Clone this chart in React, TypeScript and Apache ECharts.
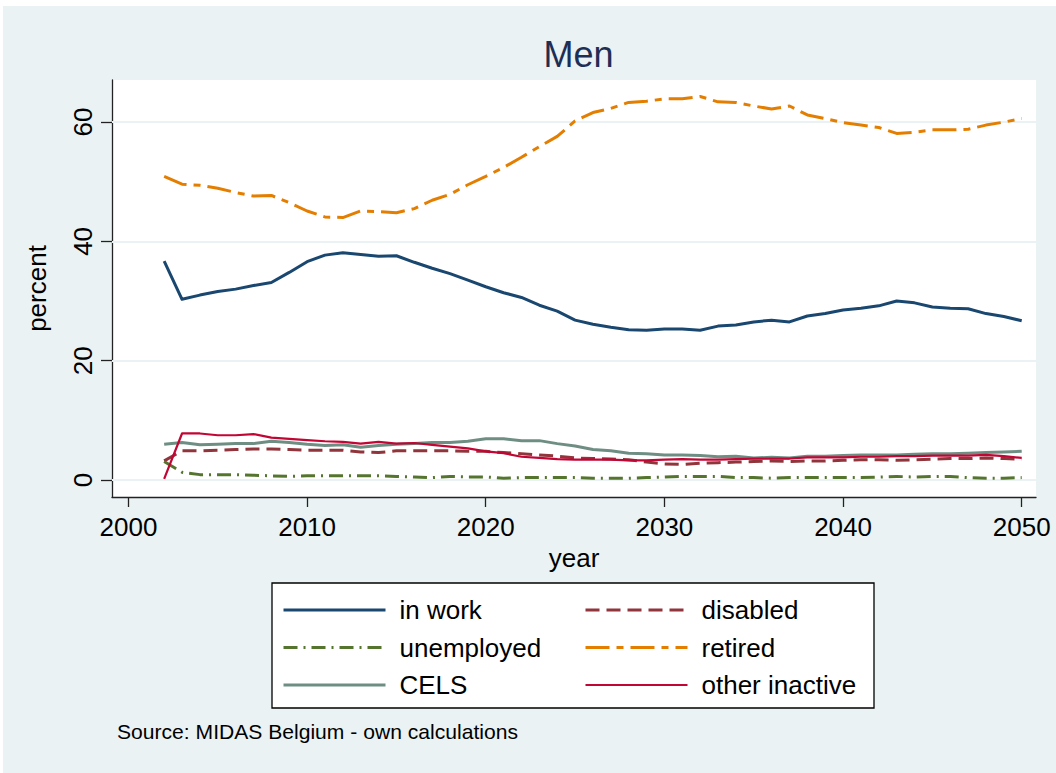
import React, { useEffect, useRef } from "react";
import * as echarts from "echarts";

const years = [
  2002, 2003, 2004, 2005, 2006, 2007, 2008, 2009, 2010, 2011,
  2012, 2013, 2014, 2015, 2016, 2017, 2018, 2019, 2020, 2021,
  2022, 2023, 2024, 2025, 2026, 2027, 2028, 2029, 2030, 2031,
  2032, 2033, 2034, 2035, 2036, 2037, 2038, 2039, 2040, 2041,
  2042, 2043, 2044, 2045, 2046, 2047, 2048, 2049, 2050,
];

const inWork = [
  36.7, 30.3, 31.0, 31.6, 32.0, 32.6, 33.1, 34.8, 36.6, 37.7,
  38.1, 37.8, 37.5, 37.6, 36.5, 35.5, 34.6, 33.5, 32.4, 31.4,
  30.6, 29.3, 28.3, 26.8, 26.1, 25.6, 25.2, 25.1, 25.3, 25.3,
  25.1, 25.8, 26.0, 26.5, 26.8, 26.5, 27.5, 27.9, 28.5, 28.8,
  29.2, 30.0, 29.7, 29.0, 28.8, 28.7, 27.9, 27.4, 26.7,
];
const disabled = [
  3.2, 4.9, 4.9, 5.0, 5.1, 5.2, 5.2, 5.1, 5.0, 5.0,
  5.0, 4.7, 4.6, 4.9, 4.9, 4.9, 4.9, 4.8, 4.8, 4.6,
  4.4, 4.2, 4.0, 3.7, 3.6, 3.5, 3.4, 3.0, 2.7, 2.6,
  2.8, 2.9, 3.0, 3.1, 3.2, 3.1, 3.2, 3.2, 3.3, 3.4,
  3.4, 3.3, 3.4, 3.5, 3.6, 3.6, 3.7, 3.6, 3.5,
];
const unemployed = [
  3.1, 1.3, 0.9, 0.9, 0.9, 0.8, 0.7, 0.6, 0.7, 0.7,
  0.7, 0.7, 0.7, 0.6, 0.5, 0.4, 0.6, 0.5, 0.5, 0.3,
  0.4, 0.4, 0.4, 0.4, 0.3, 0.3, 0.3, 0.4, 0.5, 0.6,
  0.6, 0.6, 0.4, 0.4, 0.3, 0.4, 0.4, 0.4, 0.4, 0.4,
  0.5, 0.6, 0.5, 0.6, 0.6, 0.4, 0.3, 0.3, 0.4,
];
const retired = [
  50.9, 49.6, 49.4, 48.9, 48.2, 47.6, 47.7, 46.5, 45.1, 44.1,
  44.0, 45.1, 45.0, 44.8, 45.5, 46.9, 47.9, 49.5, 50.9, 52.4,
  54.1, 55.9, 57.6, 60.2, 61.6, 62.3, 63.3, 63.5, 63.9, 63.9,
  64.3, 63.4, 63.3, 62.7, 62.2, 62.7, 61.2, 60.6, 59.9, 59.5,
  59.1, 58.1, 58.3, 58.7, 58.7, 58.8, 59.5, 60.0, 60.6,
];
const cels = [
  6.0, 6.3, 5.9, 6.0, 6.1, 6.1, 6.5, 6.3, 6.0, 5.8,
  5.9, 5.5, 5.8, 6.0, 6.1, 6.3, 6.3, 6.5, 6.9, 6.9,
  6.6, 6.6, 6.1, 5.7, 5.1, 4.9, 4.5, 4.4, 4.2, 4.2,
  4.1, 3.9, 4.0, 3.7, 3.8, 3.7, 4.0, 4.0, 4.1, 4.2,
  4.2, 4.2, 4.3, 4.4, 4.4, 4.5, 4.6, 4.7, 4.8,
];
const otherInactive = [
  0.2, 7.8, 7.8, 7.5, 7.5, 7.7, 7.1, 6.9, 6.7, 6.5,
  6.4, 6.1, 6.4, 6.1, 6.2, 5.9, 5.6, 5.3, 4.8, 4.5,
  3.9, 3.7, 3.5, 3.4, 3.4, 3.4, 3.3, 3.3, 3.4, 3.5,
  3.4, 3.4, 3.5, 3.6, 3.6, 3.6, 3.8, 3.8, 3.8, 3.9,
  3.9, 4.0, 4.0, 4.1, 4.1, 4.1, 4.2, 4.0, 3.7,
];

const xTicks = [2000, 2010, 2020, 2030, 2040, 2050];
const yTicks = [0, 20, 40, 60];
const legendLeftCol = ["in work", "unemployed", "CELS"];
const legendRightCol = ["disabled", "retired", "other inactive"];

const FONT = "'Liberation Sans', Arial, sans-serif";
const BG = "#EAF2F3";

function pairs(vals: number[]) {
  return years.map((y, i) => [y, vals[i]]);
}

export default function App() {
  const ref = useRef<HTMLDivElement>(null);
  useEffect(() => {
    if (!ref.current) return;
    const chart = echarts.init(ref.current, null, { renderer: "svg" });
    const widths: Record<string, number> = {
      "in work": 3,
      disabled: 3,
      unemployed: 3,
      retired: 3,
      CELS: 3,
      "other inactive": 2.2,
    };
    const mk = (
      name: string,
      data: number[],
      color: string,
      type: any
    ) => ({
      name,
      type: "line",
      data: pairs(data),
      symbol: "none",
      showSymbol: false,
      clip: false,
      lineStyle: { color, width: widths[name], type, cap: "butt", join: "round" },
      itemStyle: { color },
      z: 3,
    });
    const gridLines = {
      name: "__grid",
      type: "line",
      data: [],
      silent: true,
      markLine: {
        silent: true,
        symbol: "none",
        z: 1,
        label: { show: false },
        lineStyle: { color: BG, width: 2, type: "solid" },
        data: yTicks.map((v) => ({ yAxis: v })),
        animation: false,
      },
    };
    const legendItems = (names: string[]) =>
      names.map((n) => ({ name: n, lineStyle: { width: widths[n] } }));
    const legendCommon = {
      orient: "vertical",
      itemWidth: 102,
      itemHeight: 26,
      itemGap: 11.5,
      padding: 0,
      z: 10,
      selectedMode: false,
      itemStyle: { opacity: 0 },
      textStyle: {
        fontFamily: FONT,
        fontSize: 26,
        color: "#000",
        lineHeight: 26,
        padding: [0, 0, 0, 9],
      },
    };
    chart.setOption({
      animation: false,
      backgroundColor: "#fff",
      title: [
        {
          text: "Men",
          left: 573.5,
          top: 31,
          textAlign: "center",
          textStyle: {
            fontFamily: FONT,
            fontSize: 36,
            fontWeight: "normal",
            color: "#1E2E55",
          },
        },
        {
          text: "Source: MIDAS Belgium - own calculations",
          left: 112,
          top: 716,
          textStyle: {
            fontFamily: FONT,
            fontSize: 21.1,
            fontWeight: "normal",
            color: "#000",
          },
        },
      ],
      graphic: [
        {
          type: "rect",
          shape: { x: 3, y: 6, width: 1053, height: 767 },
          style: { fill: BG },
          z: -10,
          silent: true,
        },
        {
          type: "rect",
          shape: { x: 272, y: 583, width: 602, height: 125 },
          style: { fill: "#fff", stroke: "#000", lineWidth: 1.3 },
          z: 5,
          silent: true,
        },
      ],
      grid: {
        left: 112,
        right: 20,
        top: 80,
        bottom: 276,
        show: true,
        backgroundColor: "#fff",
        borderWidth: 0,
        containLabel: false,
      },
      xAxis: {
        type: "value",
        min: 1999.08,
        max: 2050.8,
        name: "year",
        nameLocation: "middle",
        nameGap: 41,
        nameTextStyle: { fontFamily: FONT, fontSize: 26, color: "#000" },
        axisLine: { show: true, onZero: false, lineStyle: { color: "#222", width: 1.3 } },
        axisTick: {
          show: true,
          length: 10,
          customValues: xTicks,
          lineStyle: { color: "#222", width: 1.3 },
        },
        axisLabel: {
          customValues: xTicks,
          formatter: (v: number) => String(v),
          fontFamily: FONT,
          fontSize: 26,
          color: "#000",
          margin: 17,
        },
        splitLine: { show: false },
      },
      yAxis: {
        type: "value",
        min: -2.85,
        max: 67.06,
        name: "percent",
        nameLocation: "middle",
        nameGap: 62,
        nameTextStyle: { fontFamily: FONT, fontSize: 26, color: "#000" },
        axisLine: { show: true, onZero: false, lineStyle: { color: "#222", width: 1.3 } },
        axisTick: {
          show: true,
          length: 11,
          customValues: yTicks,
          lineStyle: { color: "#222", width: 1.3 },
        },
        axisLabel: {
          customValues: yTicks,
          rotate: 90,
          fontFamily: FONT,
          fontSize: 26,
          color: "#000",
          margin: 16,
        },
        splitLine: { show: false },
      },
      legend: [
        { ...legendCommon, left: 282, top: 597, data: legendItems(legendLeftCol) },
        { ...legendCommon, left: 584, top: 597, data: legendItems(legendRightCol) },
      ],
      series: [
        gridLines,
        mk("in work", inWork, "#1A476F", "solid"),
        mk("disabled", disabled, "#90353B", [14, 7]),
        mk("unemployed", unemployed, "#55752F", [14, 6, 2, 6]),
        mk("retired", retired, "#E37E00", [24, 7, 7, 7]),
        mk("CELS", cels, "#6E8E84", "solid"),
        mk("other inactive", otherInactive, "#C10534", "solid"),
      ],
    });
    return () => chart.dispose();
  }, []);
  return (
    <div
      ref={ref}
      style={{ position: "fixed", left: 0, top: 0, width: 1056, height: 773 }}
    />
  );
}
